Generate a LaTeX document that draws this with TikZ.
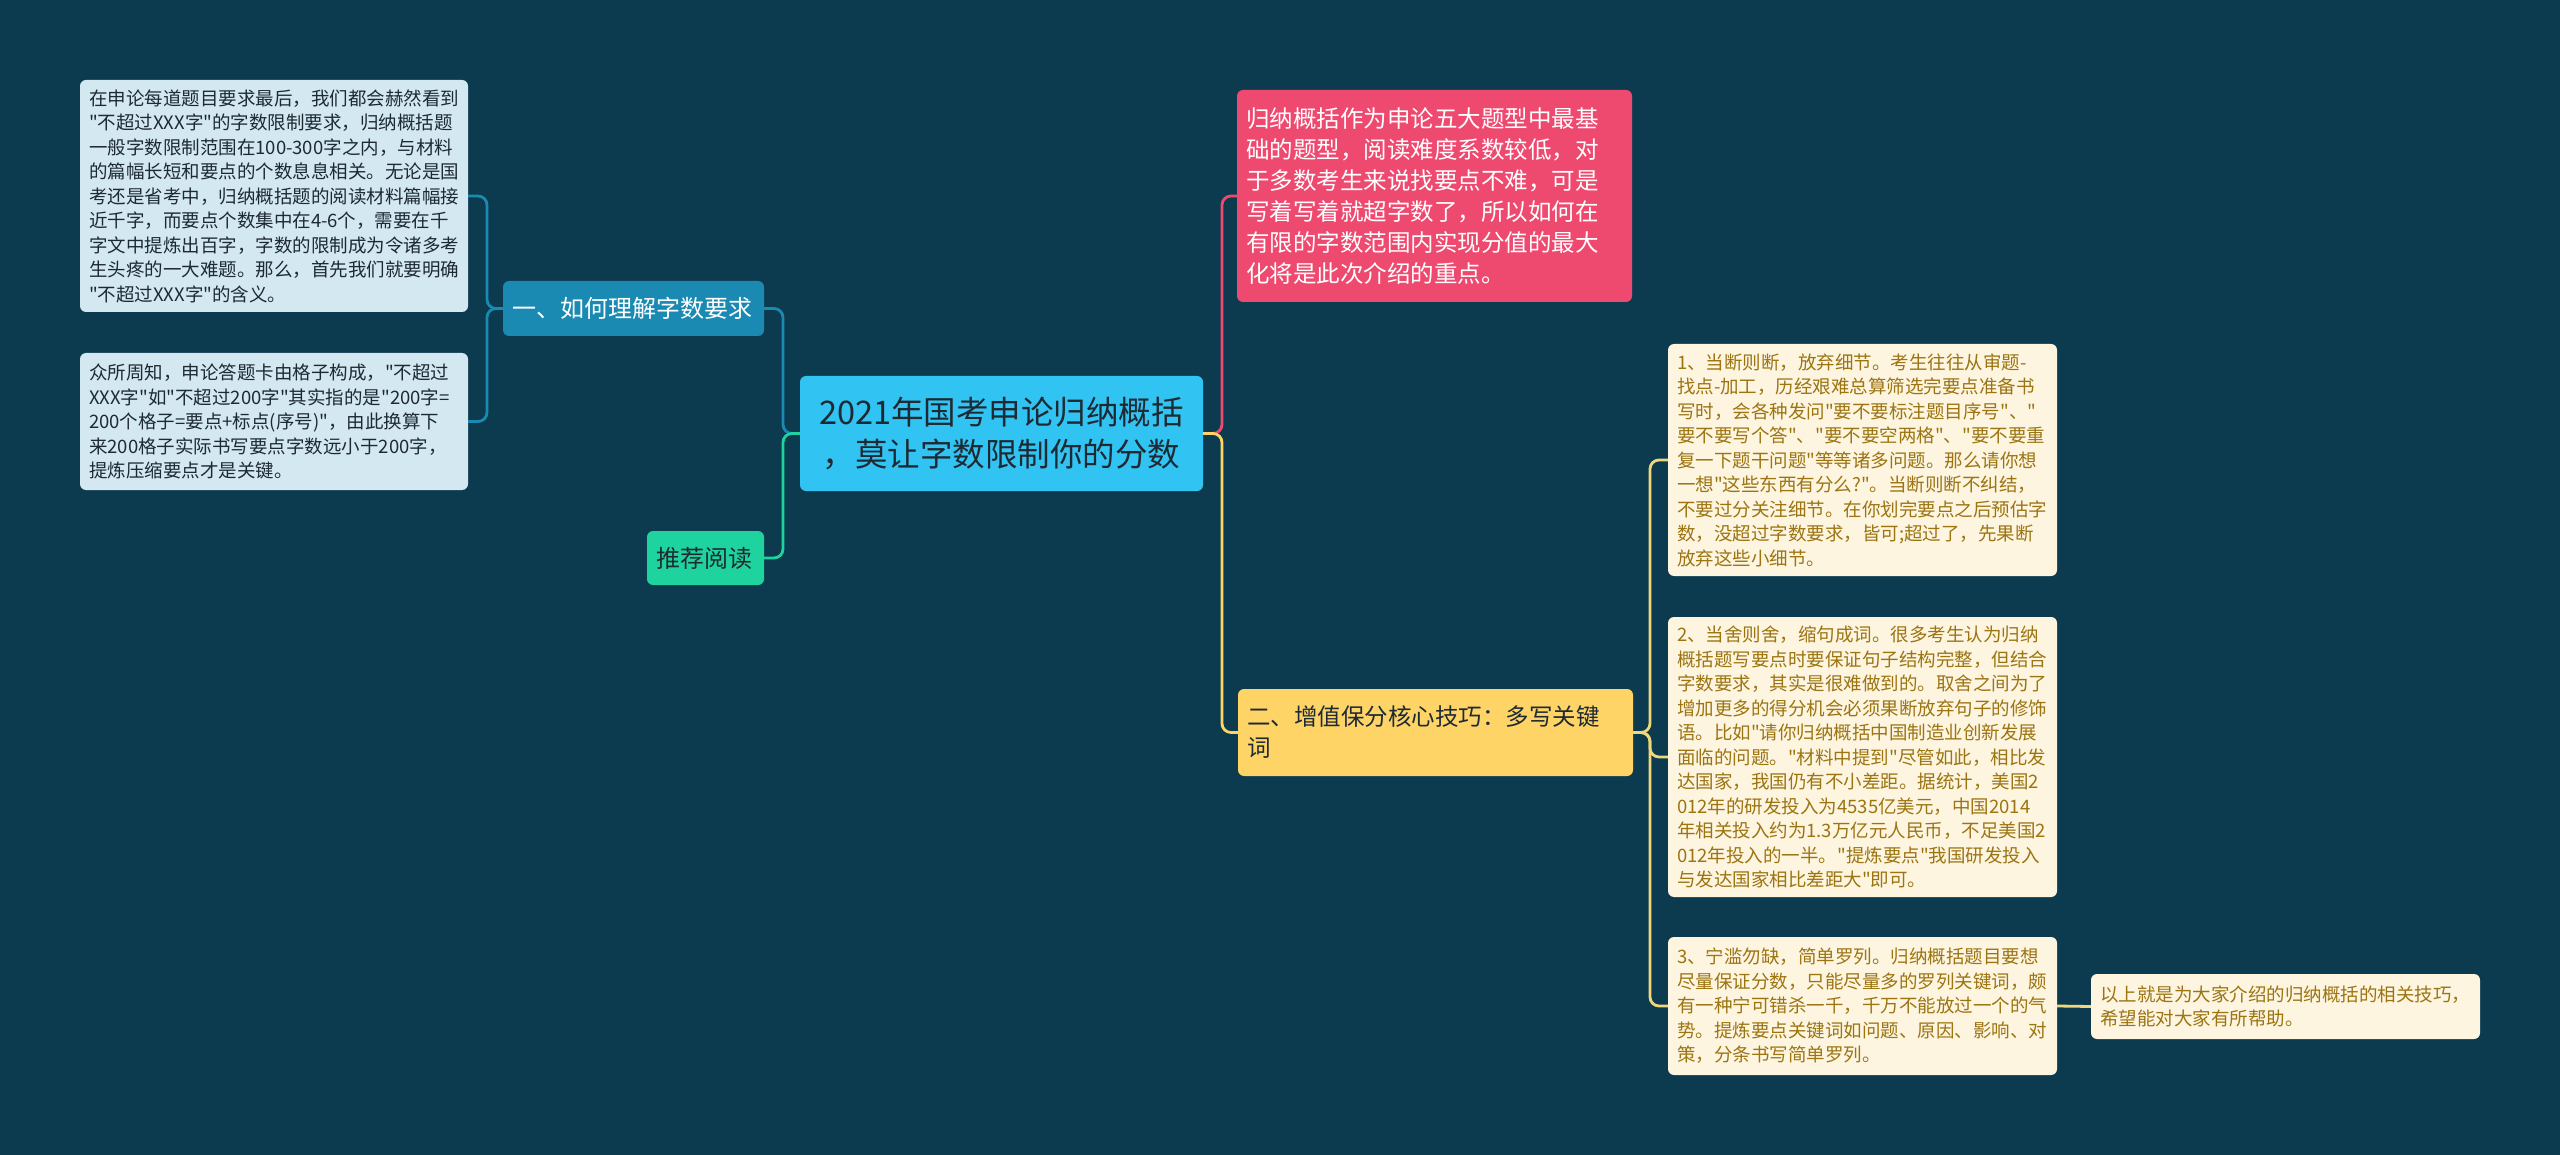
\documentclass[tikz,border=0pt]{standalone}
\usepackage{fontspec}
\newfontfamily\cjk{Noto Sans CJK SC}
\definecolor{bg}{HTML}{0C3A4E}
\definecolor{lchild}{HTML}{D3E8F1}
\definecolor{bblue}{HTML}{1B8AB3}
\definecolor{bgreen}{HTML}{1FD39E}
\definecolor{ccyan}{HTML}{31C3F2}
\definecolor{bred}{HTML}{EE4A70}
\definecolor{byellow}{HTML}{FFD466}
\definecolor{tipfill}{HTML}{FDF5DF}
\definecolor{tiptext}{HTML}{9C7412}
\definecolor{tipline}{HTML}{F0D77C}
\definecolor{darktext}{HTML}{1E2A33}
\tikzset{
  mbox/.style={rounded corners=6, inner xsep=9, inner ysep=0, align=left, anchor=center},
  smallfont/.style={font=\cjk\fontsize{18.5}{24.5}\selectfont},
  midfont/.style={font=\cjk\fontsize{23.5}{31}\selectfont},
  brfont/.style={font=\cjk\fontsize{24}{31}\selectfont},
  conn/.style={line width=2.8, rounded corners=9},
}
\begin{document}
\begin{tikzpicture}[x=1pt,y=-1pt]
\useasboundingbox (0,0) rectangle (2560,1155);
\fill[bg] (0,0) rectangle (2560,1155);

% nodes
\node[mbox, fill=ccyan, text=darktext, text width=385, minimum height=115,
  font=\cjk\fontsize{32.5}{42}\selectfont, align=center] (ctr) at (1001.5,433.5)
  {2021年国考申论归纳概括\\，莫让字数限制你的分数};

\node[mbox, brfont, fill=bblue, text=white, text width=243, minimum height=55] (b1) at (633.5,308.5)
  {一、如何理解字数要求};
\node[mbox, brfont, fill=bgreen, text=darktext, text width=99, minimum height=54] (b2) at (705.5,558)
  {推荐阅读};

\node[mbox, smallfont, fill=lchild, text=darktext, text width=370, minimum height=232] (l1) at (274,196)
  {在申论每道题目要求最后，我们都会赫然看到\\
"不超过XXX字"的字数限制要求，归纳概括题\\
一般字数限制范围在100-300字之内，与材料\\
的篇幅长短和要点的个数息息相关。无论是国\\
考还是省考中，归纳概括题的阅读材料篇幅接\\
近千字，而要点个数集中在4-6个，需要在千\\
字文中提炼出百字，字数的限制成为令诸多考\\
生头疼的一大难题。那么，首先我们就要明确\\
"不超过XXX字"的含义。};

\node[mbox, smallfont, fill=lchild, text=darktext, text width=370, minimum height=137] (l2) at (274,421.5)
  {众所周知，申论答题卡由格子构成，"不超过\\
XXX字"如"不超过200字"其实指的是"200字=\\
200个格子=要点+标点(序号)"，由此换算下\\
来200格子实际书写要点字数远小于200字，\\
提炼压缩要点才是关键。};

\node[mbox, midfont, fill=bred, text=white, text width=377, minimum height=212] (r1) at (1434.5,196)
  {归纳概括作为申论五大题型中最基\\
础的题型，阅读难度系数较低，对\\
于多数考生来说找要点不难，可是\\
写着写着就超字数了，所以如何在\\
有限的字数范围内实现分值的最大\\
化将是此次介绍的重点。};

\node[mbox, midfont, fill=byellow, text=darktext, text width=377, minimum height=87] (r2) at (1435.5,732.5)
  {二、增值保分核心技巧：多写关键\\词};

\node[mbox, smallfont, fill=tipfill, text=tiptext, text width=371, minimum height=232] (t1) at (1862.5,460)
  {1、当断则断，放弃细节。考生往往从审题-\\
找点-加工，历经艰难总算筛选完要点准备书\\
写时，会各种发问"要不要标注题目序号"、"\\
要不要写个答"、"要不要空两格"、"要不要重\\
复一下题干问题"等等诸多问题。那么请你想\\
一想"这些东西有分么?"。当断则断不纠结，\\
不要过分关注细节。在你划完要点之后预估字\\
数，没超过字数要求，皆可;超过了，先果断\\
放弃这些小细节。};

\node[mbox, smallfont, fill=tipfill, text=tiptext, text width=371, minimum height=280] (t2) at (1862.5,757)
  {2、当舍则舍，缩句成词。很多考生认为归纳\\
概括题写要点时要保证句子结构完整，但结合\\
字数要求，其实是很难做到的。取舍之间为了\\
增加更多的得分机会必须果断放弃句子的修饰\\
语。比如"请你归纳概括中国制造业创新发展\\
面临的问题。"材料中提到"尽管如此，相比发\\
达国家，我国仍有不小差距。据统计，美国2\\
012年的研发投入为4535亿美元，中国2014\\
年相关投入约为1.3万亿元人民币，不足美国2\\
012年投入的一半。"提炼要点"我国研发投入\\
与发达国家相比差距大"即可。};

\node[mbox, smallfont, fill=tipfill, text=tiptext, text width=371, minimum height=138] (t3) at (1862.5,1006)
  {3、宁滥勿缺，简单罗列。归纳概括题目要想\\
尽量保证分数，只能尽量多的罗列关键词，颇\\
有一种宁可错杀一千，千万不能放过一个的气\\
势。提炼要点关键词如问题、原因、影响、对\\
策，分条书写简单罗列。};

\node[mbox, smallfont, fill=tipfill, text=tiptext, text width=371, minimum height=65] (t4) at (2285.5,1006.5)
  {以上就是为大家介绍的归纳概括的相关技巧，\\
希望能对大家有所帮助。};

% junction coordinates
\coordinate (jl) at (783,433.5);
\coordinate (jl1) at (487,308.5);
\coordinate (jr) at (1222,433.5);
\coordinate (jr2) at (1650,732.5);

% connectors
\draw[conn, bblue] (ctr.west) -- (jl) |- (b1.east);
\draw[conn, bgreen] (ctr.west) -- (jl) |- (b2.east);
\draw[conn, bblue] (b1.west) -- (jl1) |- (l1.east);
\draw[conn, bblue] (b1.west) -- (jl1) |- (l2.east);
\draw[conn, bred] (ctr.east) -- (jr) |- (r1.west);
\draw[conn, byellow] (ctr.east) -- (jr) |- (r2.west);
\draw[conn, tipline] (r2.east) -- (jr2) |- (t1.west);
\draw[conn, tipline] (r2.east) -- (jr2) |- (t2.west);
\draw[conn, tipline] (r2.east) -- (jr2) |- (t3.west);
\draw[conn, tipline] (t3.east) -- (t4.west);
\end{tikzpicture}
\end{document}
